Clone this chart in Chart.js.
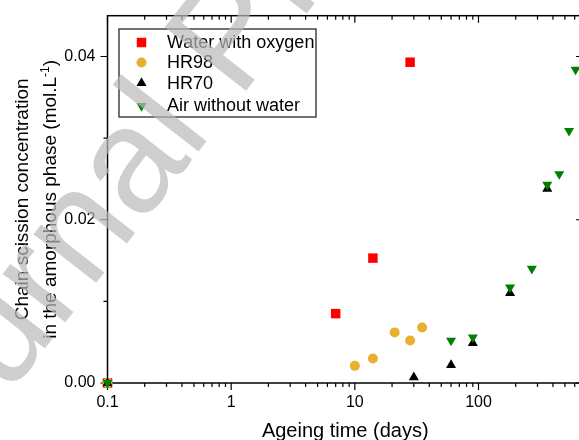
<!DOCTYPE html>
<html>
<head>
<meta charset="utf-8">
<script src="https://cdn.jsdelivr.net/npm/chart.js@4/dist/chart.umd.min.js"></script>
<style>
  body { margin: 0; background: #fff; overflow: hidden; }
  #wrap { width: 600px; height: 440px; }
</style>
</head>
<body>
<div id="wrap"><canvas id="chart" width="600" height="440"></canvas></div>
<script>
// Series names, in legend order
const seriesNames = ['Water with oxygen', 'HR98', 'HR70', 'Air without water'];

// Ageing time (days) and chain scission concentration (mol/L) for each series
const waterDays = [0.1, 7, 14, 28];
const waterConc = [0, 0.0085, 0.0153, 0.0393];
const hr98Days = [0.1, 10, 14, 21, 28, 35];
const hr98Conc = [0, 0.0021, 0.0030, 0.0062, 0.0052, 0.0068];
const hr70Days = [0.1, 30, 60, 90, 180, 360];
const hr70Conc = [0, 0.0007, 0.0022, 0.0049, 0.0110, 0.0238];
const airDays = [0.1, 60, 90, 180, 270, 360, 450, 540, 610];
const airConc = [0, 0.0052, 0.0056, 0.0117, 0.0140, 0.0243, 0.0256, 0.0309, 0.0384];

// Axis ticks
const xTickLabels = [0.1, 1, 10, 100];
const yTickLabels = [0, 0.02, 0.04];
const yMinorTicks = [0.01, 0.03];

const FONT = "'Liberation Sans', Arial, sans-serif";

// marker look per series
const markers = [
    { style: 'rect', radius: 6.7, rotation: 0, color: '#ff0000' },
    { style: 'circle', radius: 5, rotation: 0, color: '#e8b030' },
    { style: 'triangle', radius: 5.8, rotation: 0, color: '#000000' },
    { style: 'triangle', radius: 5.8, rotation: 180, color: '#008000' }
];

function toPoints(xs, ys) {
    return xs.map((x, i) => ({ x: x, y: ys[i] }));
}

// same shapes as chart.js, used for the legend
function drawMarker(ctx, m, x, y) {
    ctx.save();
    ctx.fillStyle = m.color;
    ctx.beginPath();
    if (m.style === 'rect') {
        const s = Math.SQRT1_2 * m.radius;
        ctx.rect(x - s, y - s, 2 * s, 2 * s);
    } else if (m.style === 'circle') {
        ctx.arc(x, y, m.radius, 0, Math.PI * 2);
    } else {
        let rad = m.rotation * Math.PI / 180;
        for (let k = 0; k < 3; k++) {
            const px = x + Math.sin(rad) * m.radius;
            const py = y - Math.cos(rad) * m.radius;
            if (k === 0) ctx.moveTo(px, py); else ctx.lineTo(px, py);
            rad += 2 * Math.PI / 3;
        }
        ctx.closePath();
    }
    ctx.fill();
    ctx.restore();
}

// frame + tick marks on all four sides
const framePlugin = {
    id: 'frame',
    beforeDatasetsDraw(chart) {
        const ctx = chart.ctx;
        const a = chart.chartArea;
        const xs = chart.scales.x;
        const ys = chart.scales.y;
        ctx.save();
        ctx.strokeStyle = '#000';
        ctx.lineWidth = 1.5;
        ctx.strokeRect(a.left, a.top, a.right - a.left, a.bottom - a.top);
        ctx.lineWidth = 1.2;
        ctx.beginPath();
        xs.ticks.forEach(t => {
            const px = xs.getPixelForValue(t.value);
            const len = xTickLabels.includes(t.value) ? 7 : 4;
            ctx.moveTo(px, a.bottom); ctx.lineTo(px, a.bottom + len);
            ctx.moveTo(px, a.top); ctx.lineTo(px, a.top + len);
        });
        ys.ticks.forEach(t => {
            const py = ys.getPixelForValue(t.value);
            const len = yTickLabels.includes(t.value) ? 7 : 4;
            ctx.moveTo(a.left - len, py); ctx.lineTo(a.left, py);
            ctx.moveTo(a.right - len, py); ctx.lineTo(a.right, py);
        });
        ctx.stroke();
        ctx.restore();
    },
    afterDraw(chart) {
        const ctx = chart.ctx;
        const a = chart.chartArea;
        ctx.save();

        // legend
        ctx.strokeStyle = '#444';
        ctx.lineWidth = 1.5;
        ctx.strokeRect(119, 29, 197, 88);
        const rowY = [42.5, 62.5, 83, 105];
        ctx.font = '18px ' + FONT;
        ctx.fillStyle = '#000';
        ctx.textBaseline = 'middle';
        ctx.textAlign = 'left';
        seriesNames.forEach((name, i) => {
            drawMarker(ctx, markers[i], 141.5, rowY[i] + (i === 3 ? 1 : 0));
            ctx.fillStyle = '#000';
            ctx.fillText(name, 167, rowY[i] + 1);
        });

        // x title
        ctx.textAlign = 'center';
        ctx.textBaseline = 'alphabetic';
        ctx.font = '20px ' + FONT;
        ctx.fillText('Ageing time (days)', (a.left + a.right) / 2, 437);

        // y title, two lines
        const cy = (a.top + a.bottom) / 2;
        ctx.font = '19px ' + FONT;
        ctx.save();
        ctx.translate(28, cy);
        ctx.rotate(-Math.PI / 2);
        ctx.fillText('Chain scission concentration', 0, 0);
        ctx.restore();

        ctx.save();
        ctx.translate(55.5, cy);
        ctx.rotate(-Math.PI / 2);
        ctx.textAlign = 'left';
        const main = 'in the amorphous phase (mol.L';
        ctx.font = '19px ' + FONT;
        const w1 = ctx.measureText(main).width;
        const w3 = ctx.measureText(')').width;
        ctx.font = '12px ' + FONT;
        const w2 = ctx.measureText('-1').width;
        let start = -(w1 + w2 + w3) / 2;
        ctx.font = '19px ' + FONT;
        ctx.fillText(main, start, 0);
        ctx.font = '12px ' + FONT;
        ctx.fillText('-1', start + w1, -7);
        ctx.font = '19px ' + FONT;
        ctx.fillText(')', start + w1 + w2, 0);
        ctx.restore();

        // watermark
        ctx.translate(-90, 521);
        ctx.rotate(-52 * Math.PI / 180);
        ctx.font = '150px ' + FONT;
        ctx.fillStyle = 'rgba(185,185,185,0.7)';
        ctx.textAlign = 'left';
        ctx.fillText('Journal Pre-proof', 0, 0);
        ctx.restore();
    }
};

const allDays = [waterDays, hr98Days, hr70Days, airDays];
const allConc = [waterConc, hr98Conc, hr70Conc, airConc];

const datasets = seriesNames.map((name, i) => ({
    label: name,
    data: toPoints(allDays[i], allConc[i]),
    pointStyle: markers[i].style,
    pointRadius: markers[i].radius,
    pointRotation: markers[i].rotation,
    backgroundColor: markers[i].color,
    borderColor: markers[i].color,
    borderWidth: 0,
    showLine: false,
    clip: false,
    order: seriesNames.length - i // later series on top
}));

new Chart(document.getElementById('chart'), {
    type: 'scatter',
    data: { datasets: datasets },
    options: {
        responsive: false,
        animation: false,
        layout: { padding: { left: 0, right: 17, top: 15.7, bottom: 0 } },
        plugins: {
            legend: { display: false },
            tooltip: { enabled: false }
        },
        scales: {
            x: {
                type: 'logarithmic',
                min: 0.1,
                max: 700,
                afterFit: s => {
                    s.height = 57;
                    s.paddingLeft = 0;
                    s.paddingRight = 0;
                },
                afterBuildTicks: s => {
                    const ticks = [];
                    xTickLabels.forEach(d => {
                        for (let k = 1; k <= 9; k++) {
                            const v = k === 1 ? d : d * k;
                            if (v <= 700) ticks.push({ value: v });
                        }
                    });
                    s.ticks = ticks;
                },
                grid: { display: false, drawTicks: false },
                border: { display: false },
                ticks: {
                    autoSkip: false,
                    maxRotation: 0,
                    padding: 10,
                    color: '#000',
                    font: { family: FONT, size: 16 },
                    callback: v => xTickLabels.includes(v) ? String(v) : ''
                }
            },
            y: {
                min: 0,
                max: 0.045,
                afterFit: s => {
                    s.width = 107.5;
                    s.paddingTop = 0;
                    s.paddingBottom = 0;
                },
                afterBuildTicks: s => {
                    s.ticks = yTickLabels.concat(yMinorTicks).sort().map(v => ({ value: v }));
                },
                grid: { display: false, drawTicks: false },
                border: { display: false },
                ticks: {
                    padding: 12,
                    color: '#000',
                    font: { family: FONT, size: 16 },
                    callback: v => yTickLabels.includes(v) ? v.toFixed(2) : ''
                }
            }
        }
    },
    plugins: [framePlugin]
});
</script>
</body>
</html>
